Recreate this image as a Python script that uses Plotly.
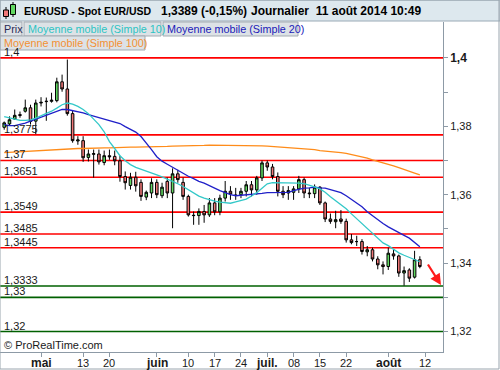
import pandas as pd
import plotly.graph_objects as go

# ---------------- data ----------------
dates = [d.strftime("%Y-%m-%d") for d in pd.bdate_range("2014-04-22", "2014-08-11")]

opens = [1.3797, 1.3807, 1.3821, 1.3834, 1.3844, 1.3854, 1.3815, 1.3868, 1.3872, 1.3873,
         1.3875, 1.3930, 1.3909, 1.3837, 1.3757, 1.3758, 1.3709, 1.3718, 1.3719, 1.3694,
         1.3714, 1.3712, 1.3699, 1.3653, 1.3627, 1.3651, 1.3636, 1.3593, 1.3605, 1.3636,
         1.3597, 1.3639, 1.3605, 1.3661, 1.3636, 1.3595, 1.3540, 1.3539, 1.3551, 1.3541,
         1.3576, 1.3550, 1.3590, 1.3610, 1.3599, 1.3600, 1.3610, 1.3629, 1.3614, 1.3649,
         1.3693, 1.3681, 1.3653, 1.3610, 1.3605, 1.3607, 1.3617, 1.3644, 1.3605, 1.3603,
         1.3622, 1.3576, 1.3529, 1.3521, 1.3529, 1.3522, 1.3468, 1.3463, 1.3463, 1.3433,
         1.3439, 1.3412, 1.3395, 1.3390, 1.3427, 1.3421, 1.3371, 1.3380, 1.3359, 1.3410]
highs = [1.3814, 1.3829, 1.3849, 1.3843, 1.3878, 1.3863, 1.3878, 1.3885, 1.3884, 1.3898,
         1.3942, 1.3951, 1.3995, 1.3846, 1.3771, 1.3771, 1.3732, 1.3732, 1.3732, 1.3729,
         1.3732, 1.3729, 1.3714, 1.3668, 1.3664, 1.3667, 1.3645, 1.3612, 1.3648, 1.3645,
         1.3635, 1.3650, 1.3677, 1.3673, 1.3650, 1.3600, 1.3551, 1.3560, 1.3570, 1.3590,
         1.3590, 1.3600, 1.3640, 1.3625, 1.3620, 1.3620, 1.3640, 1.3640, 1.3655, 1.3700,
         1.3700, 1.3690, 1.3665, 1.3625, 1.3625, 1.3625, 1.3655, 1.3650, 1.3620, 1.3630,
         1.3625, 1.3580, 1.3545, 1.3553, 1.3555, 1.3530, 1.3485, 1.3480, 1.3470, 1.3450,
         1.3445, 1.3420, 1.3405, 1.3445, 1.3440, 1.3425, 1.3390, 1.3385, 1.3436, 1.3420]
lows = [1.3790, 1.3803, 1.3819, 1.3825, 1.3840, 1.3805, 1.3777, 1.3858, 1.3816, 1.3869,
        1.3870, 1.3901, 1.3831, 1.3752, 1.3746, 1.3696, 1.3697, 1.3650, 1.3688, 1.3686,
        1.3702, 1.3686, 1.3638, 1.3615, 1.3615, 1.3609, 1.3582, 1.3584, 1.3590, 1.3590,
        1.3590, 1.3590, 1.3502, 1.3635, 1.3585, 1.3536, 1.3512, 1.3512, 1.3518, 1.3535,
        1.3540, 1.3540, 1.3580, 1.3585, 1.3585, 1.3590, 1.3595, 1.3595, 1.3600, 1.3640,
        1.3670, 1.3645, 1.3595, 1.3590, 1.3585, 1.3585, 1.3605, 1.3590, 1.3590, 1.3590,
        1.3570, 1.3520, 1.3515, 1.3502, 1.3515, 1.3460, 1.3455, 1.3450, 1.3425, 1.3420,
        1.3405, 1.3382, 1.3367, 1.3380, 1.3410, 1.3360, 1.3334, 1.3345, 1.3355, 1.3385]
closes = [1.3810, 1.3819, 1.3832, 1.3832, 1.3854, 1.3814, 1.3868, 1.3870, 1.3873, 1.3876,
          1.3930, 1.3909, 1.3837, 1.3758, 1.3760, 1.3708, 1.3719, 1.3720, 1.3696, 1.3714,
          1.3711, 1.3699, 1.3653, 1.3635, 1.3651, 1.3626, 1.3595, 1.3607, 1.3636, 1.3600,
          1.3622, 1.3605, 1.3661, 1.3644, 1.3595, 1.3541, 1.3539, 1.3551, 1.3541, 1.3576,
          1.3550, 1.3590, 1.3610, 1.3602, 1.3598, 1.3610, 1.3629, 1.3614, 1.3649, 1.3693,
          1.3681, 1.3653, 1.3610, 1.3600, 1.3612, 1.3617, 1.3644, 1.3605, 1.3603, 1.3622,
          1.3576, 1.3529, 1.3522, 1.3527, 1.3522, 1.3468, 1.3460, 1.3463, 1.3434, 1.3439,
          1.3412, 1.3395, 1.3390, 1.3429, 1.3421, 1.3371, 1.3378, 1.3356, 1.3410, 1.3390]

ma10 = [1.3828, 1.3824, 1.3819, 1.3817, 1.3817, 1.3819, 1.3824, 1.3830, 1.3837, 1.3844,
        1.3853, 1.3863, 1.3868, 1.3865, 1.3858, 1.3849, 1.3837, 1.3822, 1.3805, 1.3784,
        1.3755, 1.3735, 1.3714, 1.3699, 1.3688, 1.3680, 1.3675, 1.3670, 1.3663, 1.3658,
        1.3652, 1.3646, 1.3640, 1.3632, 1.3624, 1.3614, 1.3604, 1.3596, 1.3590, 1.3585,
        1.3581, 1.3578, 1.3576, 1.3575, 1.3579, 1.3582, 1.3587, 1.3596, 1.3606, 1.3619,
        1.3632, 1.3635, 1.3635, 1.3635, 1.3635, 1.3635, 1.3634, 1.3632, 1.3628, 1.3623,
        1.3617, 1.3607, 1.3594, 1.3582, 1.3571, 1.3559, 1.3544, 1.3530, 1.3515, 1.3500,
        1.3486, 1.3471, 1.3459, 1.3451, 1.3440, 1.3430, 1.3423, 1.3416, 1.3410, 1.3404]
ma20 = [1.3805, 1.3802, 1.3802, 1.3805, 1.3809, 1.3815, 1.3821, 1.3827, 1.3833, 1.3839,
        1.3844, 1.3849, 1.3849, 1.3846, 1.3843, 1.3839, 1.3834, 1.3830, 1.3825, 1.3821,
        1.3817, 1.3812, 1.3808, 1.3799, 1.3792, 1.3783, 1.3770, 1.3752, 1.3732, 1.3711,
        1.3698, 1.3689, 1.3680, 1.3672, 1.3663, 1.3654, 1.3647, 1.3639, 1.3634, 1.3626,
        1.3619, 1.3612, 1.3606, 1.3600, 1.3597, 1.3598, 1.3600, 1.3601, 1.3603, 1.3604,
        1.3606, 1.3606, 1.3606, 1.3606, 1.3607, 1.3612, 1.3616, 1.3619, 1.3620, 1.3622,
        1.3620, 1.3619, 1.3615, 1.3610, 1.3606, 1.3597, 1.3587, 1.3576, 1.3565, 1.3550,
        1.3538, 1.3527, 1.3516, 1.3506, 1.3497, 1.3489, 1.3481, 1.3473, 1.3461, 1.3448]
ma100 = [1.3723, 1.3724, 1.3725, 1.3726, 1.3727, 1.3728, 1.3729, 1.3730, 1.3730, 1.3731,
         1.3732, 1.3733, 1.3733, 1.3734, 1.3735, 1.3735, 1.3736, 1.3737, 1.3737, 1.3737,
         1.3737, 1.3738, 1.3738, 1.3738, 1.3739, 1.3739, 1.3739, 1.3740, 1.3740, 1.3740,
         1.3740, 1.3741, 1.3742, 1.3742, 1.3743, 1.3743, 1.3744, 1.3744, 1.3744, 1.3745,
         1.3745, 1.3745, 1.3745, 1.3745, 1.3745, 1.3745, 1.3745, 1.3744, 1.3743, 1.3743,
         1.3742, 1.3741, 1.3740, 1.3739, 1.3738, 1.3737, 1.3736, 1.3735, 1.3733, 1.3732,
         1.3729, 1.3728, 1.3726, 1.3725, 1.3723, 1.3721, 1.3718, 1.3715, 1.3711, 1.3707,
         1.3702, 1.3698, 1.3694, 1.3689, 1.3684, 1.3679, 1.3673, 1.3667, 1.3663, 1.3658]

red_levels = [1.4, 1.3775, 1.37, 1.3651, 1.3549, 1.3485, 1.3445]
green_levels = [1.3333, 1.33, 1.32]

tick_dates = ["2014-05-01", "2014-05-13", "2014-05-20", "2014-06-02", "2014-06-10",
              "2014-06-17", "2014-06-24", "2014-07-01", "2014-07-08", "2014-07-15",
              "2014-07-22", "2014-08-01", "2014-08-12"]
tick_labels = ["mai", "13", "20", "juin", "10", "17", "24", "juil.", "08", "15", "22", "août", "12"]
month_labels = {"mai", "juin", "juil.", "août"}

y_tickvals = [1.32, 1.34, 1.36, 1.38, 1.40]
y_minor = [1.33, 1.35, 1.37, 1.39]

# ---------------- layout helpers ----------------
W, H = 500, 370
PL, PR, PT, PB = 0, 443, 22, 352


def px(x):
    return (x - PL) / (PR - PL)


def py(y):
    return (PB - y) / (PB - PT)


def fmt(v):
    s = ("%.4f" % v).rstrip("0").rstrip(".")
    return s.replace(".", ",")


FONT = "Liberation Sans, Arial, sans-serif"

idx = list(range(len(dates)))
calendar = [d.strftime("%Y-%m-%d") for d in pd.bdate_range(dates[0], "2014-08-12")]
tick_pos = [calendar.index(d) for d in tick_dates]

fig = go.Figure()

fig.add_trace(go.Candlestick(
    x=idx, open=opens, high=highs, low=lows, close=closes,
    increasing=dict(fillcolor="#62d962", line=dict(color="#000000", width=1)),
    decreasing=dict(fillcolor="#f07878", line=dict(color="#000000", width=1)),
    whiskerwidth=0, hoverinfo="skip", showlegend=False,
))
fig.add_trace(go.Scatter(x=idx, y=ma100, mode="lines", line=dict(color="#ff8c1a", width=1.3),
                         hoverinfo="skip", showlegend=False))
fig.add_trace(go.Scatter(x=idx, y=ma20, mode="lines", line=dict(color="#2020c8", width=1.3),
                         hoverinfo="skip", showlegend=False))
fig.add_trace(go.Scatter(x=idx, y=ma10, mode="lines", line=dict(color="#33c8c8", width=1.3),
                         hoverinfo="skip", showlegend=False))

shapes = []
annotations = []

for lv in red_levels + green_levels:
    col = "#ff0000" if lv in red_levels else "#006000"
    shapes.append(dict(type="line", xref="paper", yref="y", x0=0, x1=1, y0=lv, y1=lv,
                       line=dict(color=col, width=1.6), layer="below"))
    annotations.append(dict(xref="paper", yref="y", x=px(3), y=lv, xanchor="left",
                            yanchor="bottom", text=fmt(lv), showarrow=False,
                            font=dict(family=FONT, size=11, color="#1a1a1a"),
                            borderpad=0, yshift=-1))

# x-axis tick labels (placed just below the axis ticks)
for pos, lab in zip(tick_pos, tick_labels):
    is_month = lab in month_labels
    annotations.append(dict(xref="x", yref="paper", x=pos, y=py(363), xanchor="center",
                            yanchor="middle", showarrow=False,
                            text=("<b>%s</b>" % lab) if is_month else lab,
                            font=dict(family=FONT, size=12 if is_month else 11,
                                      color="#1a1a1a")))

# header bar
shapes.append(dict(type="rect", xref="paper", yref="paper", x0=px(0), x1=px(500),
                   y0=py(21), y1=py(0), fillcolor="#dde8ee",
                   line=dict(color="#9aaab6", width=1), layer="above"))
# header icon (two small candles)
shapes += [
    dict(type="line", xref="paper", yref="paper", x0=px(6), x1=px(6), y0=py(19), y1=py(7),
         line=dict(color="#000", width=1), layer="above"),
    dict(type="rect", xref="paper", yref="paper", x0=px(3.5), x1=px(8.5), y0=py(16.5), y1=py(10),
         fillcolor="#f07878", line=dict(color="#000", width=1), layer="above"),
    dict(type="line", xref="paper", yref="paper", x0=px(13), x1=px(13), y0=py(17), y1=py(2),
         line=dict(color="#000", width=1), layer="above"),
    dict(type="rect", xref="paper", yref="paper", x0=px(10.5), x1=px(15.5), y0=py(14.5), y1=py(4.5),
         fillcolor="#62d962", line=dict(color="#000", width=1), layer="above"),
]
annotations += [
    dict(xref="paper", yref="paper", x=px(22), y=py(11), xanchor="left", yanchor="middle",
         text="<b>EURUSD - Spot EUR/USD</b>", showarrow=False,
         font=dict(family=FONT, size=10.5, color="#000")),
    dict(xref="paper", yref="paper", x=px(159), y=py(11), xanchor="left", yanchor="middle",
         text="<b>1,3389 (-0,15%)</b>", showarrow=False,
         font=dict(family=FONT, size=12, color="#000")),
    dict(xref="paper", yref="paper", x=px(249), y=py(11), xanchor="left", yanchor="middle",
         text="<b>Journalier\u00a0\u00a011 août 2014 10:49</b>", showarrow=False,
         font=dict(family=FONT, size=12, color="#000")),
]

# legend boxes
legend_items = [
    ("Prix", "#2a2a55", 0, 22, 22, 36),
    ("Moyenne mobile (Simple 10)", "#2cc4c4", 24, 161, 22, 36),
    ("Moyenne mobile (Simple 20)", "#1a1ab8", 163, 298, 22, 36),
    ("Moyenne mobile (Simple 100)", "#f39033", 0, 145, 36, 50),
]
for txt, col, x0, x1, y0, y1 in legend_items:
    shapes.append(dict(type="rect", xref="paper", yref="paper", x0=px(x0), x1=px(x1),
                       y0=py(y1), y1=py(y0), fillcolor="#dde2e6",
                       line=dict(color="#a3abb2", width=1), layer="above"))
    annotations.append(dict(xref="paper", yref="paper", x=px(x0 + 1.5), y=py((y0 + y1) / 2),
                            xanchor="left", yanchor="middle", text=txt, showarrow=False,
                            font=dict(family=FONT, size=10.8, color=col)))

# copyright
annotations.append(dict(xref="paper", yref="paper", x=px(2), y=py(345), xanchor="left",
                        yanchor="middle", text="© ProRealTime.com", showarrow=False,
                        font=dict(family=FONT, size=11, color="#1a1a1a")))

# red arrow
annotations.append(dict(xref="paper", yref="paper", x=px(441), y=py(285),
                        ax=-14, ay=-22, axref="pixel", ayref="pixel",
                        showarrow=True, arrowhead=2, arrowsize=1, arrowwidth=2.2,
                        arrowcolor="#ff1a1a", text=""))

# outer frame
shapes.append(dict(type="rect", xref="paper", yref="paper", x0=px(0), x1=px(499),
                   y0=py(369), y1=py(0), line=dict(color="#9aa5ae", width=1), layer="above"))

fig.update_layout(
    width=W, height=H,
    margin=dict(l=PL, r=W - PR, t=PT, b=H - PB, pad=0),
    paper_bgcolor="white", plot_bgcolor="white",
    showlegend=False, hovermode=False,
    shapes=shapes, annotations=annotations,
    font=dict(family=FONT, size=11, color="#1a1a1a"),
)
fig.update_xaxes(
    range=[-0.8, 83.4], rangeslider=dict(visible=False), showgrid=False, zeroline=False,
    showline=True, linecolor="#8d9aa6", linewidth=1, ticks="outside", ticklen=4,
    tickcolor="#8d9aa6", tickmode="array", tickvals=tick_pos, showticklabels=False,
    automargin=False,
)
fig.update_yaxes(
    side="right", range=[1.31402, 1.41048], showgrid=False, zeroline=False,
    showline=True, linecolor="#8d9aa6", linewidth=1, ticks="outside", ticklen=4,
    tickcolor="#8d9aa6", tickmode="array", tickvals=y_tickvals,
    ticktext=["1,32", "1,34", "1,36", "1,38", "<b><span style='font-size:12px'>1,4</span></b>"],
    tickfont=dict(family=FONT, size=11, color="#1a1a1a"), automargin=False,
    minor=dict(tickmode="array", tickvals=y_minor, ticks="outside", ticklen=4,
               tickcolor="#8d9aa6"),
)

fig.write_html("out.html", config={"displayModeBar": False},
               post_script="document.body.style.margin='0';document.body.style.overflow='hidden';")
